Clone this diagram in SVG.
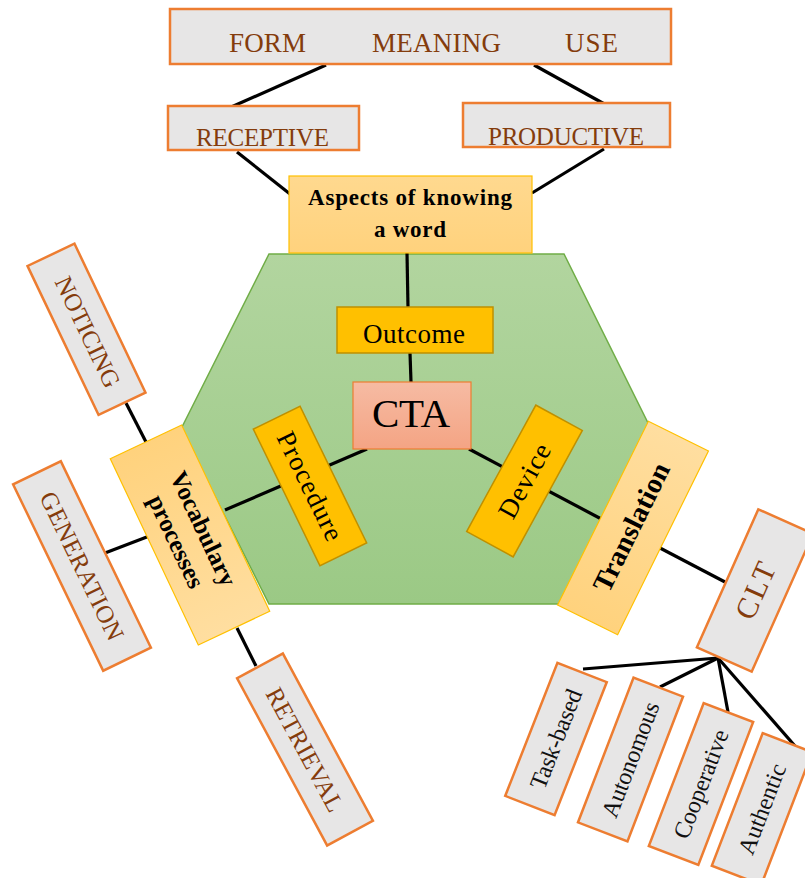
<svg xmlns="http://www.w3.org/2000/svg" width="805" height="878" viewBox="0 0 805 878">
<defs>
<linearGradient id="hexg" x1="0" y1="0" x2="0" y2="1">
<stop offset="0" stop-color="#B2D59F"/><stop offset="1" stop-color="#9BC985"/>
</linearGradient>
<linearGradient id="lightg" x1="0" y1="0" x2="1" y2="0">
<stop offset="0" stop-color="#FFD27D"/><stop offset="1" stop-color="#FFDEA0"/>
</linearGradient>
<linearGradient id="aspg" x1="0" y1="0" x2="0" y2="1">
<stop offset="0" stop-color="#FFD98F"/><stop offset="1" stop-color="#FFD27D"/>
</linearGradient>
<linearGradient id="ctag" x1="0" y1="0" x2="0" y2="1">
<stop offset="0" stop-color="#F6BBA3"/><stop offset="1" stop-color="#F4A484"/>
</linearGradient>
<style>
.grey{fill:#E7E6E6;stroke:#ED7D31;stroke-width:2.5}
.light{fill:url(#lightg);stroke:#FFC000;stroke-width:1.2}
.gold{fill:#FFC000;stroke:#BF9000;stroke-width:1.5}
.t{font-family:"Liberation Serif","Times New Roman",serif}
.brown{fill:#843C0C}
.blk{fill:#111}
.b{font-weight:bold}
.c{text-anchor:middle;dominant-baseline:central}
.conn line{stroke:#000;stroke-width:3.2;stroke-linecap:butt}
</style>
</defs>
<rect width="805" height="878" fill="#fff"/>
<g id="hexagon">
<polygon points="269,254 564,254 651,429 564,604 269,604 181,429" fill="url(#hexg)" stroke="#70AD47" stroke-width="1.5"/>
</g>
<g id="connectors" class="conn">
<line x1="326" y1="65" x2="229" y2="108"/>
<line x1="534" y1="65" x2="608" y2="106"/>
<line x1="237" y1="152" x2="290" y2="194"/>
<line x1="604" y1="149" x2="532" y2="193"/>
<line x1="407" y1="253" x2="408" y2="307"/>
<line x1="410" y1="353" x2="411" y2="382"/>
<line x1="367" y1="449" x2="225" y2="510"/>
<line x1="469" y1="449" x2="607" y2="522"/>
<line x1="126" y1="403" x2="146" y2="442"/>
<line x1="105" y1="553" x2="152" y2="535"/>
<line x1="237" y1="628" x2="256" y2="666"/>
<line x1="660" y1="548" x2="725" y2="582"/>
<line x1="718" y1="658" x2="583" y2="669"/>
<line x1="718" y1="658" x2="660" y2="687"/>
<line x1="718" y1="658" x2="728" y2="712"/>
<line x1="718" y1="658" x2="795" y2="746"/>
</g>
<g id="fmu">
<rect class="grey" x="170" y="9" width="501" height="55"/>
<text class="t brown" font-size="27" x="229" y="52" textLength="77">FORM</text>
<text class="t brown" font-size="27" x="372" y="52" textLength="129">MEANING</text>
<text class="t brown" font-size="27" x="565" y="52" textLength="53">USE</text>
</g>
<g id="receptive">
<rect class="grey" x="168" y="106" width="191" height="44"/>
<text class="t brown" font-size="25" x="196" y="146" textLength="133">RECEPTIVE</text>
</g>
<g id="productive">
<rect class="grey" x="463" y="103" width="207" height="44"/>
<text class="t brown" font-size="25" x="488" y="145" textLength="156">PRODUCTIVE</text>
</g>
<g id="aspects">
<rect x="289" y="176" width="243" height="77" fill="url(#aspg)" stroke="#FFC000" stroke-width="1.2"/>
<text class="t b" font-size="23" x="308" y="205" textLength="204">Aspects of knowing</text>
<text class="t b" font-size="23" x="374" y="237" textLength="72">a word</text>
</g>
<g id="outcome">
<rect class="gold" x="337" y="307" width="156" height="46"/>
<text class="t" font-size="27" x="363" y="343" textLength="102">Outcome</text>
</g>
<g id="cta">
<rect x="353" y="382" width="118" height="67" fill="url(#ctag)" stroke="#ED7D31" stroke-width="1.2"/>
<text class="t" font-size="41" x="372" y="427" textLength="78">CTA</text>
</g>
<g id="procedure" transform="translate(310,486) rotate(64)">
<rect class="gold" x="-76" y="-26" width="152" height="52"/>
<text class="t c" font-size="27" x="0" y="0" textLength="118">Procedure</text>
</g>
<g id="device" transform="translate(524.5,481) rotate(-61.3)">
<rect class="gold" x="-72" y="-26.5" width="144" height="53"/>
<text class="t c" font-size="27" x="0" y="0" textLength="81">Device</text>
</g>
<g id="vocabulary" transform="translate(190,535) rotate(64.7)">
<rect class="light" x="-103" y="-39.5" width="206" height="79"/>
<text class="t b c" font-size="25" x="0" y="-15" textLength="124">Vocabulary</text>
<text class="t b c" font-size="25" x="0" y="15" textLength="100">processes</text>
</g>
<g id="translation" transform="translate(633,528) rotate(-63.7)">
<rect class="light" x="-102.5" y="-33.5" width="205" height="67"/>
<text class="t b c" font-size="28" x="0" y="-2" textLength="140">Translation</text>
</g>
<g id="noticing" transform="translate(86.5,329.3) rotate(64.5)">
<rect class="grey" x="-82.5" y="-26" width="165" height="52"/>
<text class="t brown c" font-size="25" x="3" y="0" textLength="120">NOTICING</text>
</g>
<g id="generation" transform="translate(82,566) rotate(64.2)">
<rect class="grey" x="-103.5" y="-26.5" width="207" height="53"/>
<text class="t brown c" font-size="25" x="0" y="0" textLength="162">GENERATION</text>
</g>
<g id="retrieval" transform="translate(305,749.5) rotate(61.7)">
<rect class="grey" x="-95" y="-26" width="190" height="52"/>
<text class="t brown c" font-size="25" x="0" y="0" textLength="137">RETRIEVAL</text>
</g>
<g id="clt" transform="translate(755,590.5) rotate(-66)">
<rect class="grey" x="-75.5" y="-30" width="151" height="60"/>
<text class="t brown c" font-size="30" x="0" y="0" textLength="59">CLT</text>
</g>
<g id="taskbased" transform="translate(556,739) rotate(-68.6)">
<rect class="grey" x="-71.5" y="-26.5" width="143" height="53"/>
<text class="t blk c" font-size="24" x="0" y="0" textLength="105">Task-based</text>
</g>
<g id="autonomous" transform="translate(630.5,759.5) rotate(-69)">
<rect class="grey" x="-77.5" y="-26.5" width="155" height="53"/>
<text class="t blk c" font-size="24" x="0" y="0" textLength="122">Autonomous</text>
</g>
<g id="cooperative" transform="translate(701,784) rotate(-69)">
<rect class="grey" x="-76.5" y="-26.5" width="153" height="53"/>
<text class="t blk c" font-size="24" x="0" y="0" textLength="115">Cooperative</text>
</g>
<g id="authentic" transform="translate(762,809) rotate(-69)">
<rect class="grey" x="-71" y="-26.5" width="142" height="53"/>
<text class="t blk c" font-size="24" x="0" y="0" textLength="95">Authentic</text>
</g>
</svg>
